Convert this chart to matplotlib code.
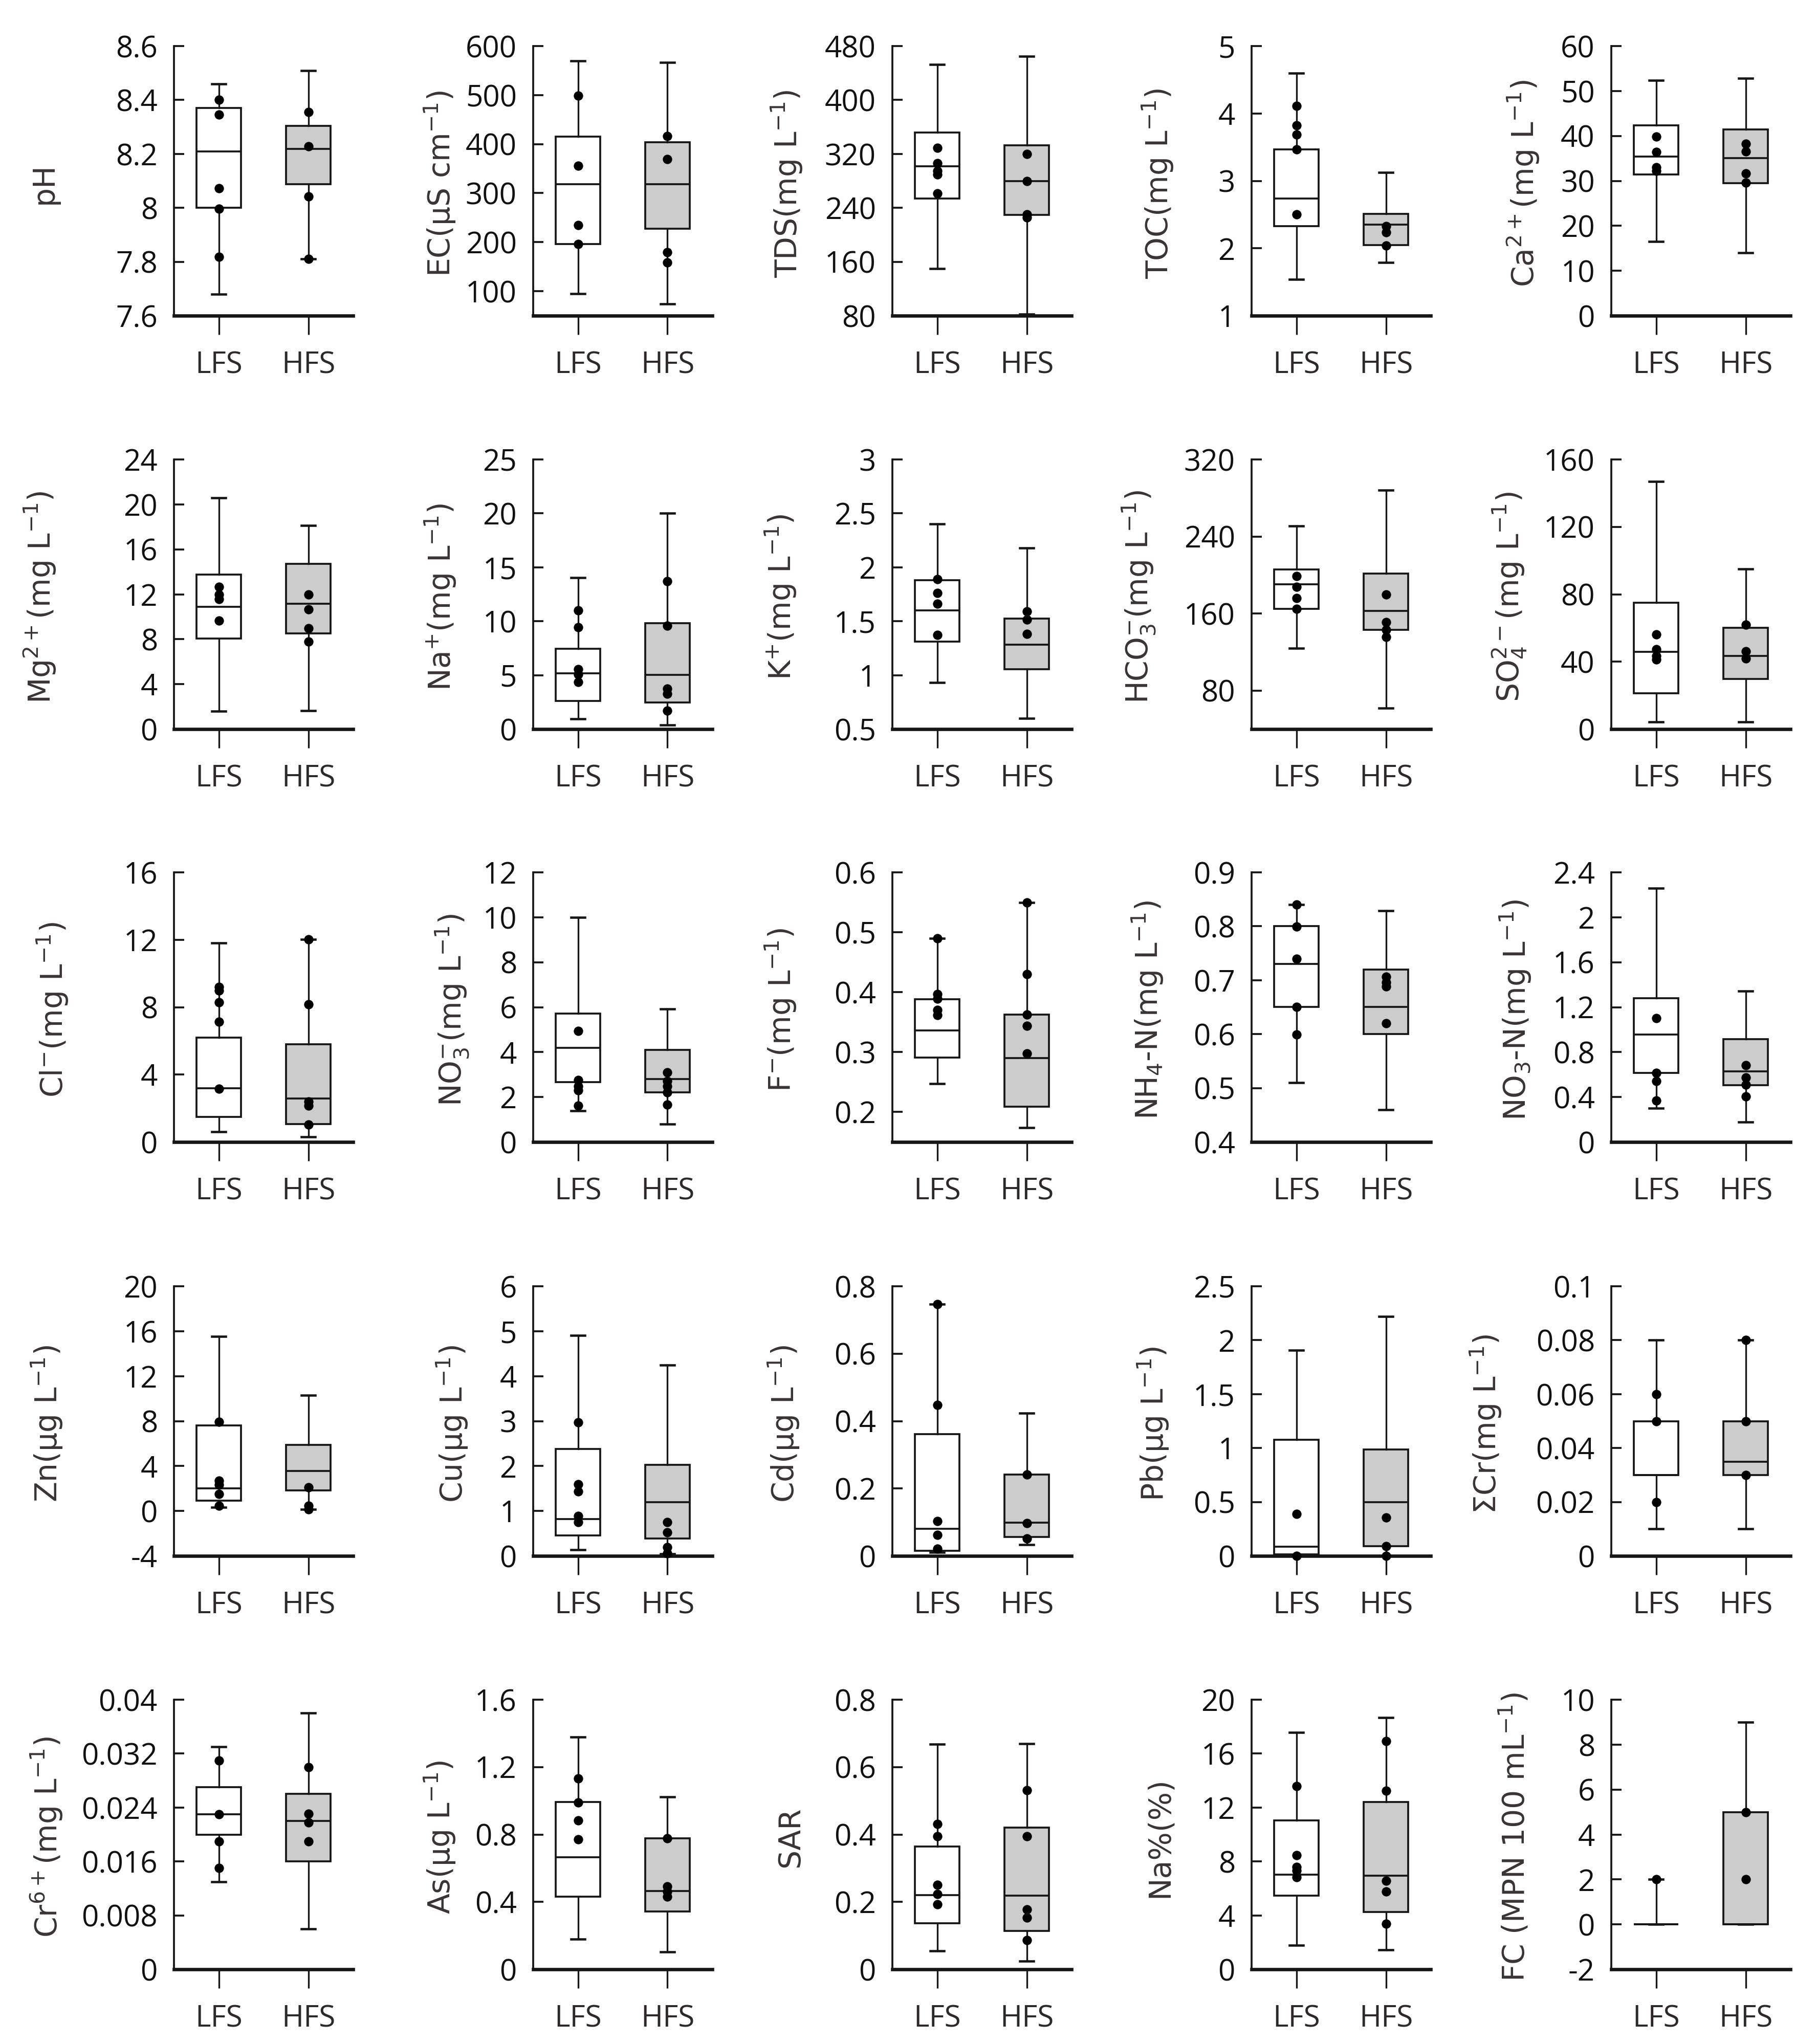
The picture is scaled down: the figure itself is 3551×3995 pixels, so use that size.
import numpy as np
import matplotlib
matplotlib.use('Agg')
import matplotlib.pyplot as plt
from matplotlib.ticker import FuncFormatter

# ---------------- data ----------------
groups = ['LFS', 'HFS']

ylabels = ['pH', 'EC(μS cm$^{-1}$)', 'TDS(mg L$^{-1}$)', 'TOC(mg L$^{-1}$)', 'Ca$^{2+}$(mg L$^{-1}$)',
           'Mg$^{2+}$(mg L$^{-1}$)', 'Na$^{+}$(mg L$^{-1}$)', 'K$^{+}$(mg L$^{-1}$)',
           'HCO$_{3}^{-}$(mg L$^{-1}$)', 'SO$_{4}^{2-}$(mg L$^{-1}$)',
           'Cl$^{-}$(mg L$^{-1}$)', 'NO$_{3}^{-}$(mg L$^{-1}$)', 'F$^{-}$(mg L$^{-1}$)',
           'NH$_{4}$-N(mg L$^{-1}$)', 'NO$_{3}$-N(mg L$^{-1}$)',
           'Zn(μg L$^{-1}$)', 'Cu(μg L$^{-1}$)', 'Cd(μg L$^{-1}$)', 'Pb(μg L$^{-1}$)', 'ΣCr(mg L$^{-1}$)',
           'Cr$^{6+}$(mg L$^{-1}$)', 'As(μg L$^{-1}$)', 'SAR', 'Na%(%)', 'FC (MPN 100 mL$^{-1}$)']

y_lo = [7.6, 50, 80, 1, 0, 0, 0, 0.5, 40, 0, 0, 0, 0.15, 0.4, 0, -4, 0, 0, 0, 0, 0, 0, 0, 0, -2]
y_hi = [8.6, 600, 480, 5, 60, 24, 25, 3, 320, 160, 16, 12, 0.6, 0.9, 2.4, 20, 6, 0.8, 2.5, 0.1, 0.04, 1.6, 0.8, 20, 10]
tick_start = [7.6, 100, 80, 1, 0, 0, 0, 0.5, 80, 0, 0, 0, 0.2, 0.4, 0, -4, 0, 0, 0, 0, 0, 0, 0, 0, -2]
tick_step = [0.2, 100, 80, 1, 10, 4, 5, 0.5, 80, 40, 4, 2, 0.1, 0.1, 0.4, 4, 1, 0.2, 0.5, 0.02, 0.008, 0.4, 0.2, 4, 2]

# LFS box statistics
lfs_whislo = [7.68, 95, 150, 1.54, 16.5, 1.6, 0.95, 0.93, 124, 4.3, 0.6, 1.4, 0.247, 0.51, 0.30,
              0.32, 0.135, 0.01, 0.0, 0.01, 0.013, 0.18, 0.054, 1.79, 0]
lfs_q1 = [8.00, 196, 254, 2.33, 31.4, 8.07, 2.6, 1.31, 165, 21.4, 1.5, 2.66, 0.291, 0.65, 0.614,
          0.9, 0.455, 0.015, 0.012, 0.03, 0.020, 0.431, 0.137, 5.45, 0]
lfs_med = [8.21, 318, 302, 2.74, 35.4, 10.9, 5.15, 1.6, 190.5, 45.7, 3.2, 4.2, 0.336, 0.73, 0.956,
           2.0, 0.82, 0.081, 0.085, 0.03, 0.023, 0.665, 0.22, 7.03, 0]
lfs_q3 = [8.37, 415, 352, 3.47, 42.4, 13.74, 7.45, 1.88, 206, 75, 6.2, 5.72, 0.388, 0.80, 1.28,
          7.62, 2.38, 0.362, 1.077, 0.05, 0.027, 0.993, 0.365, 11.05, 0]
lfs_whishi = [8.46, 570, 453, 4.60, 52.4, 20.6, 14.05, 2.40, 251, 147, 11.8, 10.0, 0.49, 0.84, 2.26,
              15.54, 4.91, 0.747, 1.907, 0.08, 0.033, 1.378, 0.668, 17.56, 2]

# HFS box statistics
hfs_whislo = [7.81, 74, 82, 1.79, 14.0, 1.63, 0.36, 0.60, 61.9, 4.3, 0.29, 0.8, 0.174, 0.46, 0.179,
              0.13, 0.05, 0.033, 0.0, 0.01, 0.006, 0.103, 0.025, 1.44, 0]
hfs_q1 = [8.087, 227, 229.4, 2.05, 29.5, 8.53, 2.47, 1.053, 143, 29.8, 1.07, 2.2, 0.209, 0.60, 0.505,
          1.81, 0.385, 0.056, 0.092, 0.03, 0.016, 0.342, 0.114, 4.24, 0]
hfs_med = [8.219, 318, 280, 2.35, 35.1, 11.14, 5.01, 1.283, 162.8, 43.4, 2.59, 2.8, 0.29, 0.65, 0.63,
           3.57, 1.19, 0.099, 0.499, 0.035, 0.022, 0.465, 0.218, 6.93, 0]
hfs_q3 = [8.304, 404, 333, 2.513, 41.4, 14.7, 9.81, 1.525, 201.6, 60.2, 5.8, 4.1, 0.363, 0.72, 0.916,
          5.9, 2.03, 0.242, 0.987, 0.05, 0.026, 0.778, 0.421, 12.4, 5]
hfs_whishi = [8.509, 567, 465, 3.126, 52.8, 18.14, 20.03, 2.179, 288.2, 94.9, 12.03, 5.92, 0.55, 0.829, 1.344,
              10.29, 4.25, 0.424, 2.22, 0.08, 0.038, 1.024, 0.67, 18.67, 9]

# individual sample points
lfs_points = [[8.40, 8.345, 8.073, 7.996, 7.818], [499, 356, 235, 196], [329, 306, 295, 289.5, 261.6],
              [4.115, 3.82, 3.69, 3.467, 2.50], [39.8, 36.4, 33.0, 32.2],
              [12.67, 12.0, 11.56, 9.65], [11.02, 9.45, 5.57, 5.09, 4.36], [1.888, 1.76, 1.663, 1.372],
              [198.7, 187.8, 176, 164.7], [56.3, 47.3, 43.4, 41.4],
              [9.21, 9.0, 8.28, 7.12, 3.16], [4.93, 2.76, 2.49, 2.29, 1.62], [0.49, 0.397, 0.389, 0.37, 0.362],
              [0.84, 0.799, 0.74, 0.65, 0.599], [1.10, 0.614, 0.544, 0.37],
              [7.92, 2.69, 2.34, 1.53, 0.48], [2.97, 1.59, 1.44, 0.89, 0.756], [0.747, 0.448, 0.103, 0.062, 0.022],
              [0.39, 0.0], [0.06, 0.05, 0.02],
              [0.031, 0.023, 0.019, 0.015], [1.132, 0.99, 0.882, 0.77], [0.431, 0.394, 0.25, 0.223, 0.193],
              [13.57, 8.47, 7.6, 7.31, 6.83], [2]]
hfs_points = [[8.355, 8.229, 8.042, 7.811], [416.6, 369, 179, 158.6], [320, 280, 230.6, 225.5],
              [2.33, 2.234, 2.04], [38.3, 36.5, 31.6, 29.6],
              [11.98, 10.65, 8.95, 7.79], [13.69, 9.57, 3.75, 3.27, 1.7], [1.59, 1.517, 1.384],
              [179.7, 151.2, 143, 135.7], [61.9, 46, 41.9],
              [12.03, 8.17, 2.39, 2.16, 1.04], [3.1, 2.72, 2.49, 2.2, 1.67], [0.55, 0.43, 0.363, 0.344, 0.298],
              [0.706, 0.696, 0.688, 0.62], [0.684, 0.574, 0.509, 0.405],
              [2.11, 0.48, 0.13], [0.756, 0.524, 0.19, 0.06], [0.242, 0.097, 0.052],
              [0.358, 0.092, 0.0], [0.08, 0.05, 0.03],
              [0.030, 0.0231, 0.0218, 0.019], [0.778, 0.493, 0.462, 0.431], [0.531, 0.394, 0.177, 0.154, 0.086],
              [16.94, 13.24, 6.58, 5.77, 3.37], [5, 2]]

# ---------------- layout (pixels of the 3551x3995 figure) ----------------
W, H, DPI = 3551, 3995, 300
col_x = [340, 1042, 1744, 2446, 3149]
row_top = [90, 898, 1705, 2514, 3322]
ax_w, ax_h = 350, 527
label_off = [-254, -182, -206, -183, -172,
             -262, -181, -218, -220, -199,
             -237, -158, -218, -203, -187,
             -248, -158, -212, -192, -245,
             -249, -182, -199, -180, -189]

box_fill = ['white', '#cbcccb']
edge = '#161616'
label_color = '#3a3333'
tick_font = 'Open Sans'

fig = plt.figure(figsize=(W / DPI, H / DPI), dpi=DPI)
fmt = FuncFormatter(lambda v, p: f'{v:g}')

for i in range(25):
    r, c = divmod(i, 5)
    ax = fig.add_axes([col_x[c] / W, 1 - (row_top[r] + ax_h) / H, ax_w / W, ax_h / H])
    stats = [
        dict(whislo=lfs_whislo[i], q1=lfs_q1[i], med=lfs_med[i], q3=lfs_q3[i], whishi=lfs_whishi[i], fliers=[]),
        dict(whislo=hfs_whislo[i], q1=hfs_q1[i], med=hfs_med[i], q3=hfs_q3[i], whishi=hfs_whishi[i], fliers=[]),
    ]
    art = ax.bxp(stats, positions=[1, 2], widths=0.5, capwidths=0.15, showfliers=False,
                 patch_artist=True,
                 boxprops=dict(linewidth=0.9, edgecolor=edge),
                 medianprops=dict(linewidth=0.9, color=edge),
                 whiskerprops=dict(linewidth=0.8, color=edge),
                 capprops=dict(linewidth=1.1, color=edge))
    for patch, fc in zip(art['boxes'], box_fill):
        patch.set_facecolor(fc)
    for pos, pts in zip([1, 2], [lfs_points[i], hfs_points[i]]):
        ax.plot([pos] * len(pts), pts, 'o', color='black', ms=4.4, mew=0, zorder=5, clip_on=False)

    ax.set_xlim(0.5, 2.5)
    ax.set_ylim(y_lo[i], y_hi[i])
    ticks = np.round(np.arange(tick_start[i], y_hi[i] + tick_step[i] / 2, tick_step[i]), 6)
    ax.set_yticks(ticks)
    ax.yaxis.set_major_formatter(fmt)
    ax.set_xticks([1, 2])
    ax.set_xticklabels(groups, fontfamily=tick_font, fontsize=14, color='#2e2929')
    for lab in ax.get_yticklabels():
        lab.set_fontfamily(tick_font)
        lab.set_fontsize(14)
        lab.set_color('#111111')

    ax.spines['top'].set_visible(False)
    ax.spines['right'].set_visible(False)
    ax.spines['left'].set_linewidth(0.9)
    ax.spines['bottom'].set_linewidth(1.6)
    ax.spines['left'].set_color(edge)
    ax.spines['bottom'].set_color(edge)
    ax.tick_params(axis='y', direction='in', length=4.8, width=0.9, pad=7.7, color=edge)
    ax.tick_params(axis='x', direction='out', length=8.9, width=0.8, pad=7.5, color=edge)
    ax.patch.set_alpha(0)

    ax.text(label_off[i] / ax_w, 0.49, ylabels[i], rotation=90, ha='center', va='center',
            transform=ax.transAxes, fontsize=14, color=label_color, family='DejaVu Sans')

fig.savefig('out.png', dpi=DPI)
